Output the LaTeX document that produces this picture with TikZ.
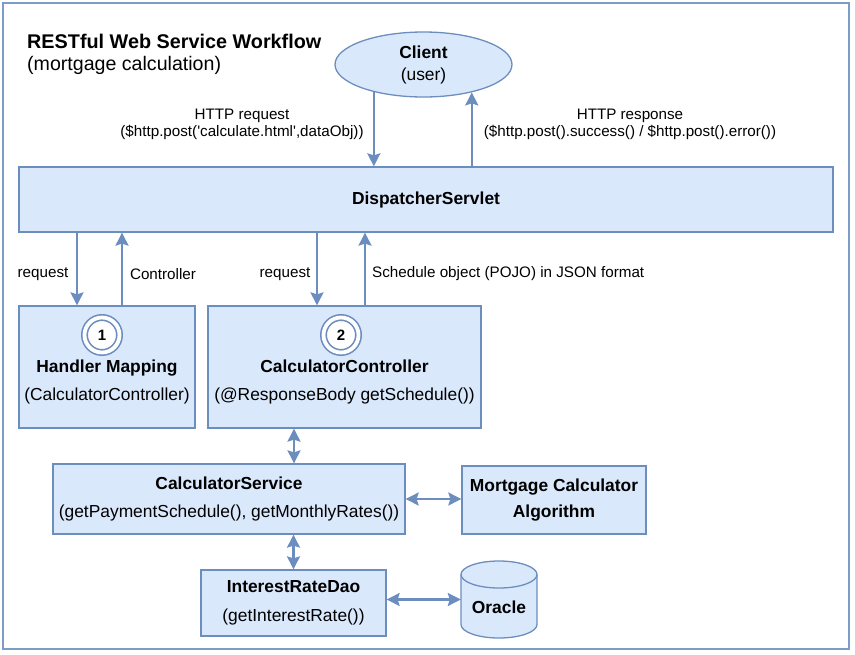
\documentclass[tikz,border=0pt]{standalone}
\usepackage{fontspec}
\setmainfont{Liberation Sans}
\usetikzlibrary{arrows.meta,calc,shapes.geometric}
\definecolor{boxfill}{HTML}{DAE8FC}
\definecolor{boxline}{HTML}{6C8EBF}
\definecolor{framecol}{HTML}{7E9CC8}
\begin{document}
\begin{tikzpicture}[x=1pt,y=1pt,
  box/.style={draw=boxline, fill=boxfill, line width=1.3pt, inner sep=0pt, align=center, font=\fontsize{17.4}{28}\selectfont},
  boxtext/.style={inner sep=0pt, align=center, font=\fontsize{17.4}{28}\selectfont},
  arr/.style={draw=boxline, line width=2.2pt, -{Stealth[length=13pt,width=13pt,inset=2pt]}},
  dbl/.style={draw=boxline, line width=2.2pt, {Stealth[length=13pt,width=13pt,inset=2pt]}-{Stealth[length=13pt,width=13pt,inset=2pt]}},
  lbl/.style={font=\fontsize{15.2}{17}\selectfont, align=center, inner sep=0pt},
  num/.style={circle, draw=boxline, double=white, double distance=3.8pt, line width=1.6pt, fill=white, minimum size=35pt, inner sep=0pt, font=\bfseries\fontsize{15}{17}\selectfont}
]
\path[use as bounding box] (0,0) rectangle (855,-654);
\draw[framecol, line width=2.5pt] (3,-3) rectangle (849,-649);

% title
\node[anchor=base west, inner sep=0pt, font=\bfseries\fontsize{19.8}{22}\selectfont] (title) at (27,-48) {RESTful Web Service Workflow};
\node[anchor=base west, inner sep=0pt, font=\fontsize{19.6}{22}\selectfont] (subtitle) at (27,-70) {(mortgage calculation)};

% client
\node[ellipse, draw=boxline, fill=boxfill, line width=1.3pt, minimum width=177pt, minimum height=65pt, inner sep=0pt, align=center, font=\fontsize{17.4}{22}\selectfont] (client) at (423.5,-64.5) {\textbf{Client}\\(user)};

% dispatcher
\node[box, minimum width=814pt, minimum height=65pt] (disp) at (426,-199.5) {\textbf{DispatcherServlet}};

% handler mapping
\node[box, minimum width=176pt, minimum height=122pt] (hm) at (107,-367) {};
\node[boxtext] (hmt) at (107,-382) {\textbf{Handler Mapping}\\(CalculatorController)};
\node[num] (c1) at (102,-335) {1};

% calculator controller
\node[box, minimum width=273pt, minimum height=122pt] (cc) at (344.5,-367) {};
\node[boxtext] (cct) at (344.5,-382) {\textbf{CalculatorController}\\(@ResponseBody getSchedule())};
\node[num] (c2) at (341,-335) {2};

% calculator service
\node[box, minimum width=352pt, minimum height=70pt] (cs) at (229,-499) {\textbf{CalculatorService}\\(getPaymentSchedule(), getMonthlyRates())};

% mortgage calculator algorithm
\node[box, minimum width=184pt, minimum height=68pt, font=\bfseries\fontsize{17.4}{26}\selectfont] (mca) at (554,-500) {Mortgage Calculator\\Algorithm};

% interest rate dao
\node[box, minimum width=185pt, minimum height=66pt, font=\fontsize{17.4}{29}\selectfont] (ird) at (293.5,-603) {\textbf{InterestRateDao}\\(getInterestRate())};

% oracle cylinder
\path[draw=boxline, fill=boxfill, line width=1.3pt] (461,-574.5) -- (461,-624.5)
  arc[start angle=180, end angle=360, x radius=38pt, y radius=13.5pt] -- (537,-574.5)
  arc[start angle=0, end angle=180, x radius=38pt, y radius=13.5pt] -- cycle;
\draw[boxline, line width=1.3pt] (461,-574.5) arc[start angle=180, end angle=360, x radius=38pt, y radius=13.5pt];
\node[minimum width=76pt, minimum height=77pt, inner sep=0pt] (oracle) at (499,-599.5) {};
\node[boxtext, font=\bfseries\fontsize{17.4}{20}\selectfont] (oraclet) at (499,-607) {Oracle};

% client <-> dispatcher
\draw[arr] (client.209.3) -- (client.209.3 |- disp.north);
\draw[arr] (disp.north -| client.330) -- (client.330);
\node[lbl] (reqlbl) at (242,-124.5) {HTTP request\\(\$http.post(\textquotesingle calculate.html\textquotesingle,dataObj))};
\node[lbl] (reslbl) at (630,-124.5) {HTTP response\\(\$http.post().success() / \$http.post().error())};

% dispatcher <-> handler mapping
\draw[arr] ([xshift=-30pt]hm.north |- disp.south) -- ([xshift=-30pt]hm.north);
\draw[arr] ([xshift=15pt]hm.north) -- ([xshift=15pt]hm.north |- disp.south);
\node[lbl] (req1) at (43,-274) {request};
\node[lbl] (ctl) at (163,-274) {Controller};

% dispatcher <-> calculator controller
\draw[arr] ([xshift=-27.5pt]cc.north |- disp.south) -- ([xshift=-27.5pt]cc.north);
\draw[arr] ([xshift=20.5pt]cc.north) -- ([xshift=20.5pt]cc.north |- disp.south);
\node[lbl] (req2) at (285,-274) {request};
\node[lbl, anchor=west] (sched) at (372,-274) {Schedule object (POJO) in JSON format};

% lower connectors
\draw[dbl] ([xshift=-50.5pt]cc.south) -- ([xshift=-50.5pt]cc.south |- cs.north);
\draw[dbl] (cs.south -| ird.north) -- (ird.north);
\draw[dbl] (cs.east) -- (cs.east -| mca.west);
\draw[dbl] (ird.east |- oracle.west) -- (oracle.west);
\end{tikzpicture}
\end{document}
